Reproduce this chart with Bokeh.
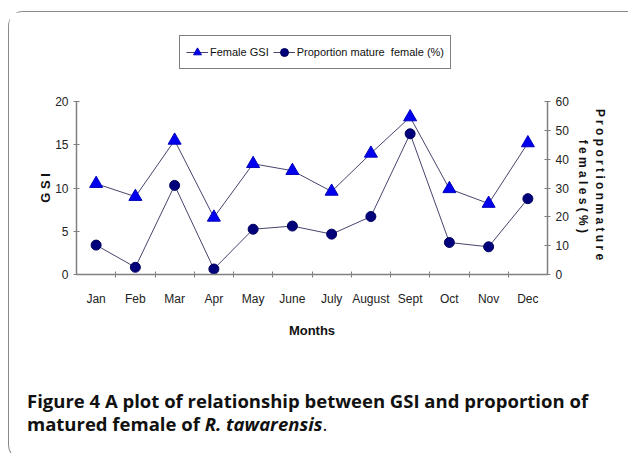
from bokeh.plotting import figure
from bokeh.models import (Range1d, LinearAxis, FixedTicker, Legend, LegendItem,
                          ColumnDataSource, Div)
from bokeh.layouts import column
from bokeh.embed import file_html
from bokeh.resources import INLINE

# ---- data ----
months = ["Jan", "Feb", "Mar", "Apr", "May", "June", "July", "August",
          "Sept", "Oct", "Nov", "Dec"]
female_gsi = [10.5, 9.0, 15.5, 6.6, 12.8, 12.0, 9.6, 14.0, 18.2, 9.9, 8.2, 15.2]
prop_mature = [10.2, 2.5, 30.9, 1.9, 15.7, 16.8, 14.0, 20.1, 48.8, 11.1, 9.6, 26.3]
gsi_ticks = [0, 5, 10, 15, 20]
prop_ticks = [0, 10, 20, 30, 40, 50, 60]
series_names = ["Female GSI", "Proportion mature  female (%)"]

FONT = "Liberation Sans"
AX = "#808080"
LINE = "#45456e"
TRI = dict(marker="triangle", size=13, fill_color="#0000ee", line_color="#0000bb")
DOT = dict(marker="circle", size=10, fill_color="#00007a", line_color="#000060")

pos = list(range(len(months)))
src = ColumnDataSource(dict(x=pos, month=months, gsi=female_gsi, prop=prop_mature))

W = 618

# ---------- chart ----------
p = figure(width=W, height=274, output_backend="svg", toolbar_location=None,
           x_range=Range1d(-0.5, len(months) - 0.5),
           y_range=Range1d(gsi_ticks[0], gsi_ticks[-1]),
           min_border_left=67, min_border_right=80, min_border_top=12,
           min_border_bottom=89)
p.extra_y_ranges = {"prop": Range1d(prop_ticks[0], prop_ticks[-1])}
p.xgrid.visible = False
p.ygrid.visible = False
p.outline_line_color = None

xa = p.xaxis[0]
xa.ticker = FixedTicker(ticks=pos, minor_ticks=[i + 0.5 for i in pos[:-1]])
xa.major_label_overrides = {i: m for i, m in enumerate(months)}
xa.axis_label = "Months"

ya = p.yaxis[0]
ya.ticker = FixedTicker(ticks=gsi_ticks)
ya.axis_label = "G S I"

ra = LinearAxis(y_range_name="prop", ticker=FixedTicker(ticks=prop_ticks))
ra.axis_label = "P r o p o r t i o n   m a t u r e\nf e m a l e s  ( % )"
p.add_layout(ra, "right")

for ax in (xa, ya, ra):
    ax.axis_line_color = AX
    ax.axis_line_width = 1.5
    ax.major_tick_line_color = AX
    ax.major_tick_in = 3
    ax.major_tick_out = 3
    ax.minor_tick_line_color = None
    ax.major_label_text_font = FONT
    ax.major_label_text_font_size = "12px"
    ax.major_label_text_color = "#222222"
    ax.major_label_standoff = 5
    ax.axis_label_text_font = FONT
    ax.axis_label_text_font_size = "13px"
    ax.axis_label_text_font_style = "bold"
    ax.axis_label_text_color = "#111111"
    ax.axis_label_standoff = 2
xa.major_tick_in = 0
xa.major_tick_out = 0
xa.minor_tick_line_color = AX
xa.minor_tick_in = 3
xa.minor_tick_out = 3
xa.major_label_standoff = 14
xa.axis_label_standoff = 14
ya.axis_label_standoff = -1
ra.axis_label_text_font_size = "12px"
ra.axis_label_standoff = 4

p.line("x", "gsi", source=src, line_color=LINE, line_width=1)
p.scatter("x", "gsi", source=src, **TRI)
p.line("x", "prop", source=src, y_range_name="prop", line_color=LINE, line_width=1)
p.scatter("x", "prop", source=src, y_range_name="prop", **DOT)

# ---------- legend strip: same series, drawn outside this strip's view ----------
lf = figure(width=W, height=77, output_backend="svg", toolbar_location=None,
            x_range=Range1d(-3, -2), y_range=Range1d(-3, -2), min_border=0,
            x_axis_type=None, y_axis_type=None)
lf.grid.visible = False
lf.outline_line_color = None
k1l = lf.line("x", "gsi", source=src, line_color=LINE, line_width=1)
k1s = lf.scatter("x", "gsi", source=src, **TRI)
k2l = lf.line("x", "prop", source=src, line_color=LINE, line_width=1)
k2s = lf.scatter("x", "prop", source=src, **DOT)
legend = Legend(items=[LegendItem(label=series_names[0], renderers=[k1l, k1s]),
                       LegendItem(label=series_names[1], renderers=[k2l, k2s])],
                orientation="horizontal", location=(103, 20.5),
                border_line_color="black", border_line_width=1,
                padding=6, spacing=4, glyph_width=22, glyph_height=20,
                label_standoff=2, label_text_font=FONT, label_text_color="#111111",
                label_text_font_size="11px", margin=0)
lf.add_layout(legend)

# ---------- caption ----------
caption = Div(
    text=("<b>Figure 4 A plot of relationship between GSI and proportion of</b><br>"
          "<b>matured female of <i>R. tawarensis</i></b>."),
    width=W, height=86,
    styles={"font-family": "Open Sans", "font-size": "18.5px", "line-height": "23px",
            "color": "#111111", "padding": "21px 0 0 13px", "white-space": "nowrap",
            "box-sizing": "border-box"})

page = column(lf, p, caption, spacing=0,
              styles={"margin": "11px 0 0 8px", "border": "1.5px solid #8a8a8a",
                      "border-right": "none", "border-radius": "15px 0 0 15px",
                      "background": "white"})

open("out.html", "w").write(file_html(page, INLINE))
